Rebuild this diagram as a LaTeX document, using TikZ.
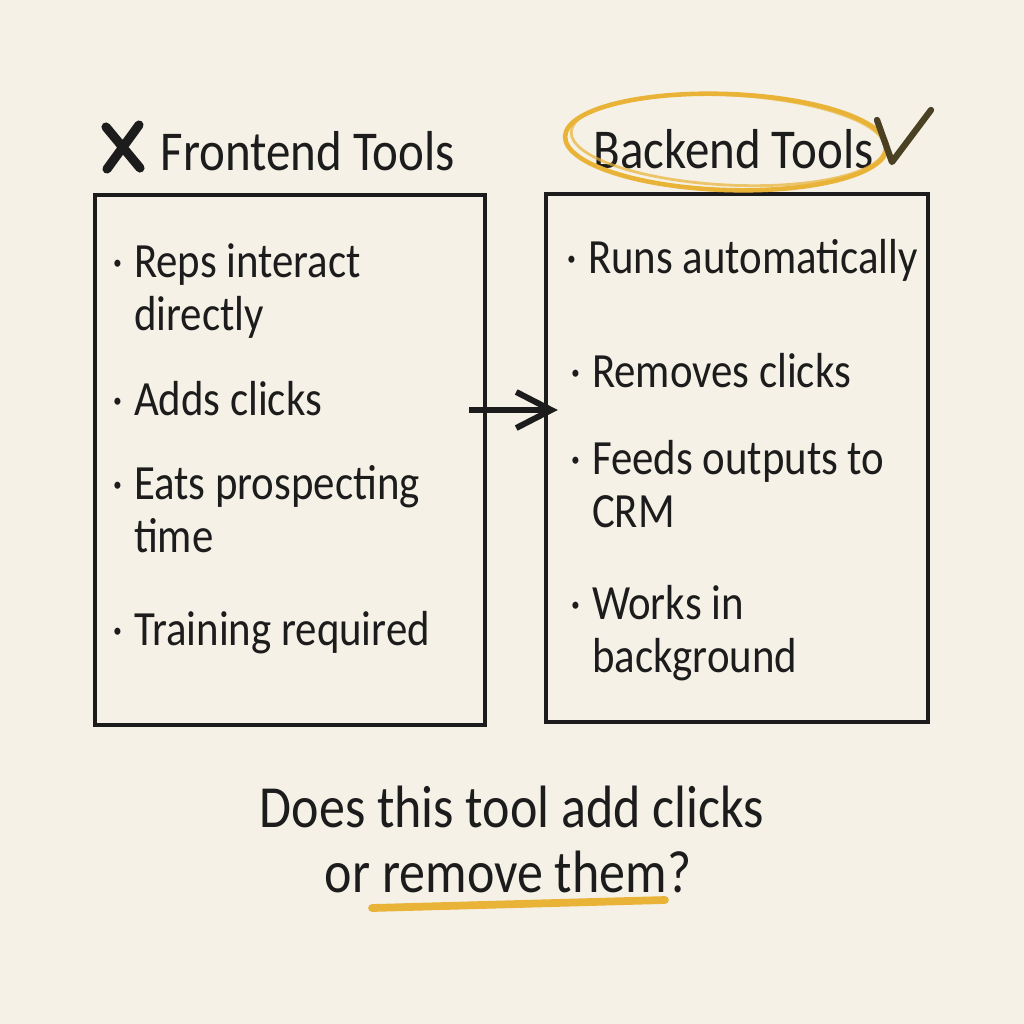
\documentclass[tikz,border=0pt]{standalone}
\usepackage{fontspec}
\setmainfont{Carlito}[FakeStretch=0.87]
\usetikzlibrary{arrows.meta, positioning}

\definecolor{paper}{HTML}{F6F1E6}
\definecolor{ink}{HTML}{1C1C1C}
\definecolor{marker}{HTML}{E8B337}
\definecolor{tick}{HTML}{4A4024}
\newcommand{\bul}{\textperiodcentered\hspace{3pt}}

\begin{document}
\begin{tikzpicture}[x=0.01cm, y=-0.01cm,
  panel/.style={draw=ink, line width=1.2pt, minimum width=3.9cm, minimum height=5.3cm},
  heading/.style={anchor=base west, inner sep=0pt, text=ink, font=\fontsize{16}{18}\selectfont},
  item/.style={anchor=base west, inner sep=0pt, align=left, text=ink,
               font=\fontsize{14}{14.8}\selectfont},
  question/.style={anchor=base, inner sep=0pt, text=ink, font=\fontsize{17}{19}\selectfont},
  arr/.style={-{Straight Barb[length=3.5mm, width=3.6mm]}, draw=ink, line width=1.7pt},
  stroke/.style={line cap=round, line join=round}
]
  % paper
  \fill[paper] (0,0) rectangle (1024,1024);

  % the two panels
  \node[panel] (front) at (290,460) {};
  \node[panel, minimum width=3.82cm, minimum height=5.27cm] (back) at (737,458) {};

  % headings
  \node[heading] (fronttitle) at (160,170) {Frontend Tools};
  \node[heading] (backtitle) at (593,168) {Backend Tools};
  \draw[ink, line width=2.6pt, stroke] (106,127) -- (140,168) (139,125) -- (107,169);
  \draw[marker, line width=1.3pt, rotate around={-2:(726,142)}]
    (726,142) ellipse [x radius=161, y radius=48];
  \draw[marker, line width=0.8pt, opacity=0.7, rotate around={-3:(728,140)}]
    (728,140) ellipse [x radius=157, y radius=45];
  \draw[tick, line width=1.8pt, stroke] (877,120) -- (892,162) -- (931,110);

  % frontend items (multi-line ones sit on their last baseline)
  \node[item] (f1) at (112,330) {\bul Reps interact\\\phantom{\bul}directly};
  \node[item] (f2) at (112,415) {\bul Adds clicks};
  \node[item] (f3) at (112,552) {\bul Eats prospecting\\\phantom{\bul}time};
  \node[item] (f4) at (112,645) {\bul Training required};

  % backend items
  \node[item] (b1) at (566,273) {\bul Runs automatically};
  \node[item] (b2) at (570,387) {\bul Removes clicks};
  \node[item] (b3) at (570,527) {\bul Feeds outputs to\\\phantom{\bul}CRM};
  \node[item] (b4) at (570,672) {\bul Works in\\\phantom{\bul}background};

  \draw[arr] ([shift={(-18,-50)}]front.east) -- ([shift={(14,-48)}]back.west);

  % question
  \node[question] (q1) at (512,827) {Does this tool add clicks};
  \node[question] (q2) at (508,892) {or remove them?};
  \draw[marker, line width=2.2pt, stroke] (372,908) -- (665,900);
\end{tikzpicture}
\end{document}
